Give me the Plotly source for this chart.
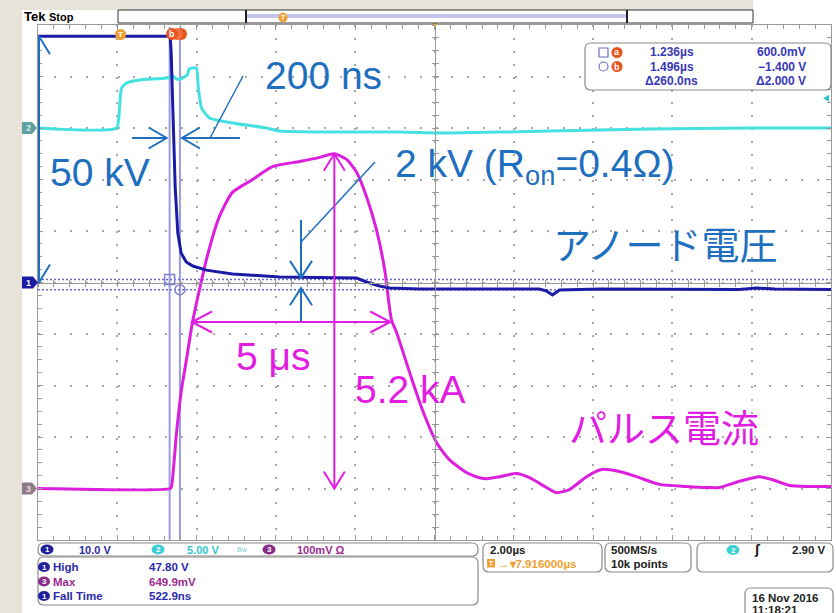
import plotly.graph_objects as go

# ---------------- screen geometry (pixels) ----------------
FIG_W, FIG_H = 836, 613
GX0, GX1, GY0, GY1 = 38, 831, 25, 540          # graticule box

# ---------------- scope settings ----------------
T_CENTER = 7.916          # µs (horizontal delay readout)
T_PER_DIV = 2.0           # µs/div
N_DIV_X, N_DIV_Y = 10, 10

CH1_SCALE, CH1_POS = 10.0, 0.0     # V/div, div
CH2_SCALE, CH2_POS = 5.0, 3.0      # V/div, div
CH3_SCALE, CH3_POS = 100.0, -4.0   # mV/div, div

# ---------------- waveforms ----------------
# CH1 anode voltage (V)
ch1_t = [-2.084, 1.25, 1.275, 1.316, 1.376, 1.442, 1.527, 1.654, 1.82, 2.158, 2.821,
         4.007, 5.016, 5.949, 6.2, 6.53, 6.78, 7.54, 10.56, 10.74, 10.89, 11.07,
         12.08, 15.6, 16.04, 16.5, 17.916]
ch1_v = [47.8, 47.8, 44.6, 31.6, 18.5, 9.6, 5.7, 4.0, 3.2, 2.4, 1.65,
         1.07, 0.9, 0.87, 0.1, -0.68, -1.07, -1.26, -1.26, -1.65, -2.43, -1.46,
         -1.26, -1.36, -1.07, -1.26, -1.36]

# CH2 trigger / gate signal (V)
ch2_t = [-2.084, -0.104, -0.029, 0.022, 0.148, 0.476, 1.157, 1.308, 1.41, 1.51, 1.61,
         1.68, 1.73, 1.91, 1.96, 2.04, 2.24, 2.82, 3.68, 4.01, 5.27, 7.03, 8.29,
         10.82, 13.34, 15.86, 17.916]
ch2_v = [0.0, 0.0, 1.94, 3.88, 4.37, 4.66, 4.85, 5.05, 4.76, 4.76, 4.95,
         5.15, 5.73, 5.83, 3.88, 1.94, 0.97, 0.49, 0.0, -0.29, -0.39, -0.39, -0.49,
         -0.29, -0.1, 0.0, 0.0]

# CH3 pulse current probe (mV)
ch3_t = [-2.084, 1.25, 1.283, 1.41, 1.535, 1.66, 1.81, 2.165, 2.49, 2.82, 3.33, 3.83,
         4.51, 5.02, 5.39, 5.70, 5.95, 6.2, 6.45, 6.66, 6.83, 6.96, 7.29, 7.61, 7.97,
         8.29, 8.72, 9.05, 9.23, 9.56, 9.98, 10.31, 10.74, 10.99, 11.32, 11.75, 12.13,
         12.58, 13.01, 13.59, 14.27, 14.78, 15.1, 15.61, 16.11, 16.44, 16.87, 17.3, 17.916]
ch3_mv = [0, 0, 4, 109, 192, 250, 322, 445, 528, 575, 600, 625,
          635, 643, 649.9, 639, 614, 567, 503, 425, 328, 303, 225, 153, 89,
          56, 31, 21, 19, 23, 29, 21, 2, -8, -2, 23, 37,
          33, 23, 8, 4, 2, 2, 14, 23, 17, 6, 4, 4]

# cursors and measurements
cursor_t = [1.236, 1.496]          # µs
cursor_v = [0.6, -1.4]             # V on CH1
ch1_high = 47.80                   # V
ch3_max = 649.9                    # mV
fall_time = 522.9                  # ns
trig_level = 2.90                  # V on CH2
pulse_width = 5.0                  # µs
on_drop = 2.0                      # kV across the switch

# ---------------- colours ----------------
C1, C2, C3 = "#1b1ba6", "#45e0e0", "#dc1fdc"
NOTE_BLUE, NOTE_MAG = "#1f6fbf", "#e21de2"
CURSOR = "#9a9ae4"
RD_BLUE, RD_CYAN, RD_PURP, RD_ORANGE = "#2a2aa8", "#34c4cf", "#9a2a90", "#f0a030"
BADGE_RED = "#e8541e"
EDGE, GRID, CENTER = "#9a9a9a", "#a8a8a8", "#9a9a9a"
BEIGE = "#e7e3d8"
LATIN = "Liberation Sans, Arial, sans-serif"
CJK = "Noto Sans CJK JP, sans-serif"
UI = "Liberation Sans, Arial, sans-serif"

PX_PER_US = (GX1 - GX0) / (N_DIV_X * T_PER_DIV)
PX_PER_DIV = (GY1 - GY0) / N_DIV_Y
T0 = T_CENTER - N_DIV_X / 2 * T_PER_DIV
T1 = T_CENTER + N_DIV_X / 2 * T_PER_DIV


def xt(px):            # pixel column -> time
    return T0 + (px - GX0) / PX_PER_US


def yd(py):            # pixel row -> divisions
    return N_DIV_Y / 2 - (py - GY0) / PX_PER_DIV


def pxp(px):           # pixel -> paper x
    return (px - GX0) / (GX1 - GX0)


def pyp(py):           # pixel -> paper y
    return (GY1 - py) / (GY1 - GY0)


def ch1(v):
    return CH1_POS + v / CH1_SCALE


def ch2(v):
    return CH2_POS + v / CH2_SCALE


def ch3(mv):
    return CH3_POS + mv / CH3_SCALE


fig = go.Figure()
fig.add_trace(go.Scatter(x=ch2_t, y=[ch2(v) for v in ch2_v], mode="lines",
                         line=dict(color=C2, width=3, shape="spline", smoothing=0.5),
                         hoverinfo="skip", showlegend=False))
fig.add_trace(go.Scatter(x=ch3_t, y=[ch3(v) for v in ch3_mv], mode="lines",
                         line=dict(color=C3, width=3, shape="spline", smoothing=0.6),
                         hoverinfo="skip", showlegend=False))
fig.add_trace(go.Scatter(x=ch1_t, y=[ch1(v) for v in ch1_v], mode="lines",
                         line=dict(color=C1, width=3),
                         hoverinfo="skip", showlegend=False))
# empty traces so the centre cross-hair axes get drawn
for ax in ("2", "3"):
    fig.add_trace(go.Scatter(x=[None], y=[None], xaxis="x" + ax, yaxis="y" + ax,
                             hoverinfo="skip", showlegend=False))

shapes = []
annos = []


def seg(x0, y0, x1, y1, color, width=2, dash=None, layer="above", ref="data"):
    d = dict(type="line", x0=x0, y0=y0, x1=x1, y1=y1, layer=layer,
             line=dict(color=color, width=width, dash=dash))
    if ref == "paper":
        d.update(xref="paper", yref="paper")
    else:
        d.update(xref="x", yref="y")
    shapes.append(d)


def head(t, y, direction, length, spread, color, width=2):
    """open V arrowhead with its apex at (t, y) in data units"""
    L_t, L_y = length / PX_PER_US, length / PX_PER_DIV
    S_t, S_y = spread / PX_PER_US, spread / PX_PER_DIV
    if direction == "up":
        a, b = (t - S_t, y - L_y), (t + S_t, y - L_y)
    elif direction == "down":
        a, b = (t - S_t, y + L_y), (t + S_t, y + L_y)
    elif direction == "right":
        a, b = (t - L_t, y + S_y), (t - L_t, y - S_y)
    else:
        a, b = (t + L_t, y + S_y), (t + L_t, y - S_y)
    shapes.append(dict(type="path", xref="x", yref="y",
                       path=f"M{a[0]},{a[1]} L{t},{y} L{b[0]},{b[1]}",
                       line=dict(color=color, width=width)))


def text(x, y, s, size, color, family=LATIN, xanchor="center", yanchor="middle",
         ref="data", bold=False):
    d = dict(x=x, y=y, text=(f"<b>{s}</b>" if bold else s), showarrow=False,
             font=dict(family=family, size=size, color=color),
             xanchor=xanchor, yanchor=yanchor)
    if ref == "paper":
        d.update(xref="paper", yref="paper")
    else:
        d.update(xref="x", yref="y")
    annos.append(d)


def poly_path(pts):
    return "M" + " L".join(f"{pxp(x):.5f},{pyp(y):.5f}" for x, y in pts) + " Z"


def rrect_path(x0, y0, x1, y1, r):
    cmds = [("M", x0 + r, y0), ("L", x1 - r, y0), ("Q", x1, y0, x1, y0 + r),
            ("L", x1, y1 - r), ("Q", x1, y1, x1 - r, y1), ("L", x0 + r, y1),
            ("Q", x0, y1, x0, y1 - r), ("L", x0, y0 + r), ("Q", x0, y0, x0 + r, y0)]
    out = []
    for c in cmds:
        pts = c[1:]
        out.append(c[0] + " ".join(f"{pxp(pts[i]):.5f},{pyp(pts[i + 1]):.5f}"
                                   for i in range(0, len(pts), 2)))
    return " ".join(out) + " Z"


def box(x0, y0, x1, y1, r=5, line="#8a8a8a", fill="white", width=1.2, layer="above"):
    shapes.append(dict(type="path", xref="paper", yref="paper", layer=layer,
                       path=rrect_path(x0, y0, x1, y1, r), fillcolor=fill,
                       line=dict(color=line, width=width)))


def disc(cx, cy, w, h, fill):
    shapes.append(dict(type="circle", xref="paper", yref="paper",
                       x0=pxp(cx - w / 2), x1=pxp(cx + w / 2),
                       y0=pyp(cy + h / 2), y1=pyp(cy - h / 2),
                       fillcolor=fill, line=dict(width=0)))


def badge(cx, cy, w, h, fill, label, color="white", size=9):
    disc(cx, cy, w, h, fill)
    text(pxp(cx), pyp(cy), label, size, color, family=UI, ref="paper", bold=True)


# ---------------- page background: beige slide margin ----------------
shapes.append(dict(type="rect", xref="paper", yref="paper", layer="below",
                   x0=pxp(0), x1=pxp(22), y0=pyp(FIG_H), y1=pyp(0),
                   fillcolor=BEIGE, line=dict(width=0)))
shapes.append(dict(type="rect", xref="paper", yref="paper", layer="below",
                   x0=pxp(0), x1=pxp(753), y0=pyp(10), y1=pyp(0),
                   fillcolor=BEIGE, line=dict(width=0)))

# ---------------- cursors ----------------
for t in cursor_t:
    seg(t, yd(GY0 + 2), t, yd(GY1), CURSOR, 2, layer="between")
for v in cursor_v:
    seg(T0, ch1(v), T1, ch1(v), "#6a6acc", 1.5, dash="2px,2px", layer="between")
shapes.append(dict(type="rect", xref="x", yref="y",
                   x0=cursor_t[0] - 5 / PX_PER_US, x1=cursor_t[0] + 5 / PX_PER_US,
                   y0=ch1(cursor_v[0]) - 5 / PX_PER_DIV, y1=ch1(cursor_v[0]) + 5 / PX_PER_DIV,
                   line=dict(color="#8080d0", width=1.5)))
shapes.append(dict(type="circle", xref="x", yref="y",
                   x0=cursor_t[1] - 5 / PX_PER_US, x1=cursor_t[1] + 5 / PX_PER_US,
                   y0=ch1(cursor_v[1]) - 5 / PX_PER_DIV, y1=ch1(cursor_v[1]) + 5 / PX_PER_DIV,
                   line=dict(color="#8080d0", width=1.5)))

# ---------------- annotations: anode voltage ----------------
x50 = T0 + 1 / PX_PER_US
seg(x50, ch1(0), x50, ch1(ch1_high), NOTE_BLUE, 2)
head(x50, ch1(ch1_high), "up", 18, 11, NOTE_BLUE)
head(x50, ch1(0), "down", 18, 11, NOTE_BLUE)
text(xt(100), yd(172), "50 kV", 39, NOTE_BLUE)

# 200 ns fall marker between the two cursors
y200 = yd(138)
seg(xt(132), y200, cursor_t[0] - 3 / PX_PER_US, y200, NOTE_BLUE, 2)
head(cursor_t[0] - 3 / PX_PER_US, y200, "right", 18, 10.5, NOTE_BLUE)
seg(xt(240), y200, cursor_t[1] + 2 / PX_PER_US, y200, NOTE_BLUE, 2)
head(cursor_t[1] + 2 / PX_PER_US, y200, "left", 18, 10.5, NOTE_BLUE)
seg(xt(210), y200, xt(243), yd(76), NOTE_BLUE, 1.5)
text(xt(323), yd(75), "200 ns", 39, NOTE_BLUE)

# 2 kV on-state drop
t2k = xt(301)
top_v = 0.9
seg(t2k, yd(220), t2k, ch1(top_v), NOTE_BLUE, 2)
head(t2k, ch1(top_v), "down", 17, 11, NOTE_BLUE)
seg(t2k, ch1(top_v - on_drop), t2k, yd(322), NOTE_BLUE, 2)
head(t2k, ch1(top_v - on_drop), "up", 17, 11, NOTE_BLUE)
seg(t2k, yd(242), xt(375), yd(162), NOTE_BLUE, 1.5)
text(xt(393), yd(166), "2 kV (R<sub>on</sub>=0.4Ω)", 39, NOTE_BLUE, xanchor="left")
text(xt(665), yd(242), "アノード電圧", 38, NOTE_BLUE, family=CJK)

# ---------------- annotations: pulse current ----------------
t_w0 = 1.8
y5 = yd(322)
seg(t_w0, y5, t_w0 + pulse_width, y5, NOTE_MAG, 2)
head(t_w0, y5, "left", 20, 10.5, NOTE_MAG)
head(t_w0 + pulse_width, y5, "right", 20, 10.5, NOTE_MAG)
text(xt(273), yd(356), "5 μs", 39, NOTE_MAG)

t_pk = ch3_t[ch3_mv.index(max(ch3_mv))]
seg(t_pk, ch3(0), t_pk, ch3(ch3_max), NOTE_MAG, 2)
head(t_pk, ch3(ch3_max), "up", 17, 10.5, NOTE_MAG)
head(t_pk, ch3(0), "down", 17, 10.5, NOTE_MAG)
text(xt(410), yd(389), "5.2 kA", 39, NOTE_MAG)
text(xt(664), yd(425), "パルス電流", 38, NOTE_MAG, family=CJK)

# ---------------- channel / trigger markers ----------------
y1m = 282.5 - CH1_POS * PX_PER_DIV
shapes.append(dict(type="path", xref="paper", yref="paper",
                   path=poly_path([(22, y1m - 6), (33, y1m - 6), (38, y1m), (33, y1m + 6), (22, y1m + 6)]),
                   fillcolor=C1, line=dict(width=0)))
text(pxp(28), pyp(y1m), "1", 9, "white", family=UI, ref="paper", bold=True)
y2m = 282.5 - CH2_POS * PX_PER_DIV
shapes.append(dict(type="path", xref="paper", yref="paper",
                   path=poly_path([(22, y2m - 6), (32, y2m - 6), (37, y2m), (32, y2m + 6), (22, y2m + 6)]),
                   fillcolor="#5f9f9f", line=dict(width=0)))
text(pxp(28), pyp(y2m), "2", 9, "#d0eeee", family=UI, ref="paper", bold=True)
y3m = 282.5 - CH3_POS * PX_PER_DIV
shapes.append(dict(type="path", xref="paper", yref="paper",
                   path=poly_path([(22, y3m - 6), (32, y3m - 6), (37, y3m), (32, y3m + 6), (22, y3m + 6)]),
                   fillcolor="#8e7a88", line=dict(width=0)))
text(pxp(28), pyp(y3m), "3", 9, "#eadde6", family=UI, ref="paper", bold=True)

# trigger level arrow on the right edge
ytr = 282.5 - ch2(trig_level) * PX_PER_DIV
shapes.append(dict(type="path", xref="paper", yref="paper",
                   path=poly_path([(823, ytr), (829, ytr - 3.5), (829, ytr + 3.5)]),
                   fillcolor=RD_CYAN, line=dict(width=0)))

# trigger point "T" on CH1 and cursor badges (cursor a sits behind cursor b)
badge(GX0 + (0 - T0) * PX_PER_US, 34.5, 11, 11, RD_ORANGE, "T", size=8)
disc(181, 34, 12, 12, BADGE_RED)
disc(177, 34, 12, 12, "#f07040")
badge(172, 34, 12, 12, BADGE_RED, "b", size=9)
shapes.append(dict(type="path", xref="paper", yref="paper",
                   path=poly_path([(431, 20), (439, 20), (435, 27)]),
                   fillcolor=RD_ORANGE, line=dict(width=0)))

# ---------------- header ----------------
text(pxp(22), pyp(17), "Tek", 13, "black", family=UI, xanchor="left", ref="paper", bold=True)
text(pxp(47), pyp(17), "Stop", 11, "black", family=UI, xanchor="left", ref="paper", bold=True)
shapes.append(dict(type="rect", xref="paper", yref="paper",
                   x0=pxp(118), x1=pxp(753), y0=pyp(23), y1=pyp(10),
                   fillcolor="white", line=dict(color="#333333", width=1)))
shapes.append(dict(type="rect", xref="paper", yref="paper",
                   x0=pxp(246), x1=pxp(627), y0=pyp(18), y1=pyp(14),
                   fillcolor="#c4c4f2", line=dict(width=0)))
seg(pxp(246), pyp(10), pxp(246), pyp(23), "#222222", 2, ref="paper")
seg(pxp(627), pyp(10), pxp(627), pyp(23), "#222222", 2, ref="paper")
badge(283, 17.5, 9, 10, RD_ORANGE, "T", size=7)

# ---------------- cursor readout ----------------
box(585, 43, 831, 90, r=6)
shapes.append(dict(type="rect", xref="paper", yref="paper",
                   x0=pxp(599), x1=pxp(608), y0=pyp(57), y1=pyp(48),
                   line=dict(color="#7070c8", width=1.2)))
shapes.append(dict(type="circle", xref="paper", yref="paper",
                   x0=pxp(599), x1=pxp(608), y0=pyp(71), y1=pyp(62),
                   line=dict(color="#7070c8", width=1.2)))
badge(617, 52.5, 11, 11, BADGE_RED, "a", size=9)
badge(617, 66.5, 11, 11, BADGE_RED, "b", size=9)
RD_CUR = "#3838b8"
rows = [(52.5, f"{cursor_t[0]:.3f}µs", f"{cursor_v[0] * 1000:.1f}mV"),
        (66.5, f"{cursor_t[1]:.3f}µs", f"−{abs(cursor_v[1]):.3f} V"),
        (81, f"Δ{(cursor_t[1] - cursor_t[0]) * 1000:.1f}ns", f"Δ{cursor_v[0] - cursor_v[1]:.3f} V")]
for i, (yy, a, b) in enumerate(rows):
    text(pxp(648 if i < 2 else 643), pyp(yy), a, 12, RD_CUR, family=UI, xanchor="left",
         ref="paper", bold=True)
    text(pxp(808), pyp(yy), b, 12, RD_CUR, family=UI, xanchor="right", ref="paper", bold=True)

# ---------------- bottom status area ----------------
box(38, 543, 478, 556, r=6)
badge(47, 549.5, 13, 10, "#20209a", "1", size=8)
text(pxp(77), pyp(549.5), f"{CH1_SCALE:.1f} V", 11, RD_BLUE, family=UI, xanchor="left",
     ref="paper", bold=True)
badge(158, 549.5, 13, 10, "#3ccfd6", "2", size=8)
text(pxp(185), pyp(549.5), f"{CH2_SCALE:.2f} V", 11, RD_CYAN, family=UI, xanchor="left",
     ref="paper", bold=True)
text(pxp(242), pyp(549), "Bw", 7, "#6fd0d0", family=UI, ref="paper")
badge(269, 549.5, 13, 10, "#8a2a88", "3", size=8)
text(pxp(295), pyp(549.5), f"{CH3_SCALE:.0f}mV Ω", 11, RD_PURP, family=UI, xanchor="left",
     ref="paper", bold=True)

box(38, 557, 478, 605, r=6)
meas = [(567, "#20209a", "1", "High", f"{ch1_high:.2f} V", RD_BLUE),
        (581.5, "#8a2a88", "3", "Max", f"{ch3_max:.1f}mV", RD_PURP),
        (596, "#20209a", "1", "Fall Time", f"{fall_time:.1f}ns", RD_BLUE)]
for yy, bc, num, name, val, col in meas:
    badge(44, yy, 12, 10, bc, num, size=8)
    text(pxp(51), pyp(yy), name, 11.5, col, family=UI, xanchor="left", ref="paper", bold=True)
    text(pxp(147), pyp(yy), val, 11.5, col, family=UI, xanchor="left", ref="paper", bold=True)

box(483, 543, 602, 572, r=6)
text(pxp(488), pyp(550), f"{T_PER_DIV:.2f}µs", 11.5, "#222222", family=UI, xanchor="left",
     ref="paper", bold=True)
shapes.append(dict(type="rect", xref="paper", yref="paper",
                   x0=pxp(487), x1=pxp(495), y0=pyp(567.5), y1=pyp(559),
                   fillcolor=RD_ORANGE, line=dict(width=0)))
text(pxp(491), pyp(563.3), "T", 7, "white", family=UI, ref="paper", bold=True)
text(pxp(496), pyp(563.5), f"→▾{T_CENTER:.6f}µs", 11.5, RD_ORANGE, family=UI,
     xanchor="left", ref="paper", bold=True)

box(605, 543, 691, 572, r=6)
text(pxp(609), pyp(550), "500MS/s", 11.5, "#222222", family=UI, xanchor="left",
     ref="paper", bold=True)
text(pxp(609), pyp(563.5), "10k points", 11.5, "#222222", family=UI, xanchor="left",
     ref="paper", bold=True)

box(697, 543, 833, 572, r=6)
badge(733, 550, 13, 10, "#3ccfd6", "2", size=8)
text(pxp(757), pyp(550), "ʃ", 12, "#222222", family="DejaVu Sans", ref="paper", bold=True)
text(pxp(828), pyp(550), f"{trig_level:.2f} V", 11.5, "#222222", family=UI, xanchor="right",
     ref="paper", bold=True)

box(745, 588, 833, 625, r=6)
text(pxp(750), pyp(598), "16 Nov 2016", 11.5, "#222222", family=UI, xanchor="left",
     ref="paper", bold=True)
text(pxp(750), pyp(609.5), "11:18:21", 11.5, "#222222", family=UI, xanchor="left",
     ref="paper", bold=True)

# ---------------- axes / graticule ----------------
gx = dict(range=[T0, T1], tick0=T_CENTER, dtick=T_PER_DIV, showticklabels=False,
          showgrid=True, gridcolor=GRID, gridwidth=2, griddash="2px,10.9px",
          zeroline=False, ticks="inside", ticklen=5, tickcolor=EDGE, tickwidth=1,
          showline=True, linecolor=EDGE, linewidth=1, mirror="allticks", fixedrange=True,
          minor=dict(tick0=T_CENTER, dtick=T_PER_DIV / 5, ticks="inside", ticklen=4,
                     tickcolor=EDGE, showgrid=False))
gy = dict(range=[-N_DIV_Y / 2, N_DIV_Y / 2], tick0=0, dtick=1, showticklabels=False,
          showgrid=True, gridcolor=GRID, gridwidth=2, griddash="2px,13.9px",
          zeroline=False, ticks="inside", ticklen=5, tickcolor=EDGE, tickwidth=1,
          showline=True, linecolor=EDGE, linewidth=1, mirror="allticks", fixedrange=True,
          minor=dict(tick0=0, dtick=0.25, ticks="inside", ticklen=4, tickcolor=EDGE,
                     showgrid=False))


def centre_x(side):
    return dict(overlaying="x", anchor="free", position=0.5, range=[T0, T1],
                tick0=T_CENTER, dtick=T_PER_DIV / 5, ticks=side, ticklen=3, tickcolor=CENTER,
                showline=True, linecolor=CENTER, linewidth=1, showgrid=False,
                zeroline=False, showticklabels=False, fixedrange=True)


def centre_y(side):
    return dict(overlaying="y", anchor="free", position=0.5,
                range=[-N_DIV_Y / 2, N_DIV_Y / 2], tick0=0, dtick=0.25, ticks=side,
                ticklen=3, tickcolor=CENTER, showline=True, linecolor=CENTER, linewidth=1,
                showgrid=False, zeroline=False, showticklabels=False, fixedrange=True)


fig.update_layout(
    width=FIG_W, height=FIG_H,
    margin=dict(l=GX0, r=FIG_W - GX1, t=GY0, b=FIG_H - GY1),
    paper_bgcolor="white", plot_bgcolor="white",
    xaxis=gx, yaxis=gy,
    xaxis2=centre_x("inside"), xaxis3=centre_x("outside"),
    yaxis2=centre_y("inside"), yaxis3=centre_y("outside"),
    shapes=shapes, annotations=annos, showlegend=False,
)

fig.write_html("out.html")
